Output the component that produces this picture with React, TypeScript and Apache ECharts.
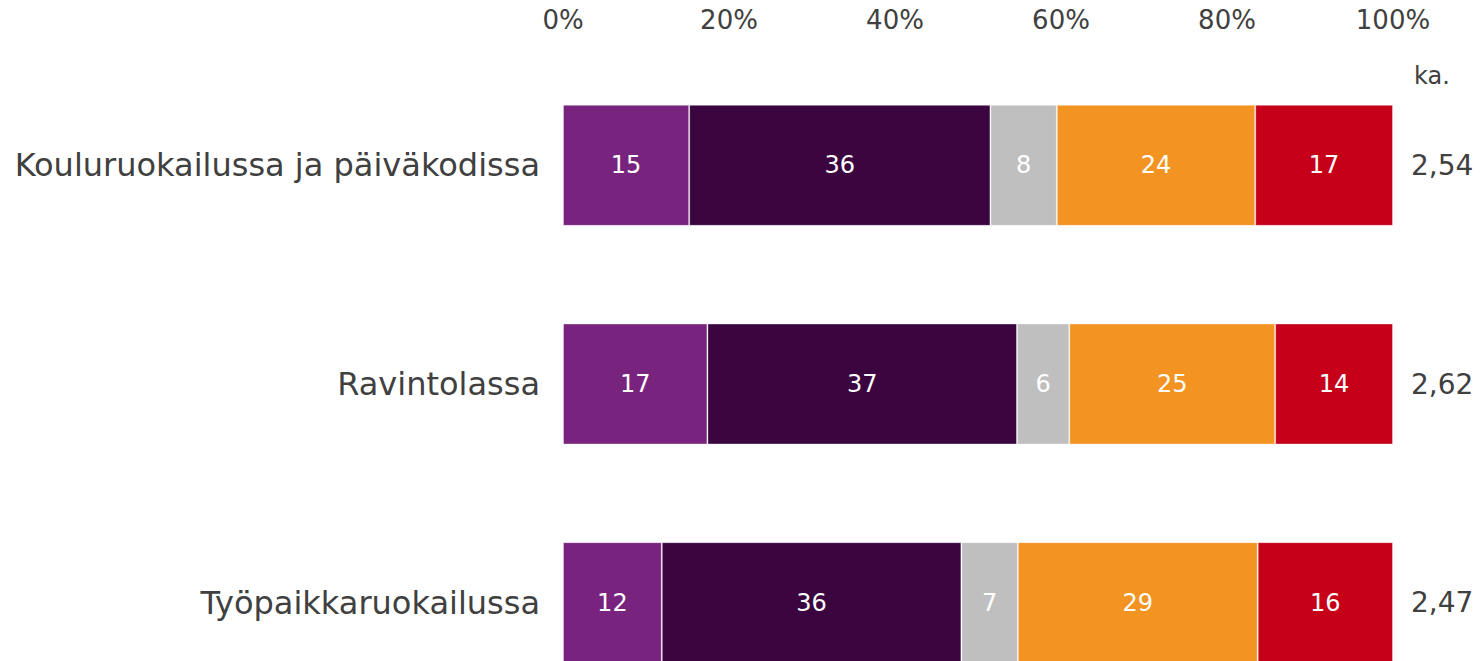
import React, { useEffect, useRef } from "react";
import * as echarts from "echarts";

const categories = ["Kouluruokailussa ja päiväkodissa", "Ravintolassa", "Työpaikkaruokailussa"];
const averages = ["2,54", "2,62", "2,47"];
const seriesNames = ["1", "2", "3", "4", "5"];
const s1 = [15.2, 17.4, 11.9];
const s2 = [36.3, 37.3, 36.1];
const s3 = [8.0, 6.3, 6.8];
const s4 = [23.9, 24.8, 28.9];
const s5 = [16.6, 14.2, 16.3];
const xTicks = [0, 20, 40, 60, 80, 100];
const colors = ["#78237D", "#3B0540", "#BFBFBF", "#F39322", "#C70019"];

const FONT = "'DejaVu Sans', Verdana, sans-serif";
const TEXT = "#404040";

export default function App() {
  const ref = useRef<HTMLDivElement>(null);
  useEffect(() => {
    if (!ref.current) return;
    const chart = echarts.init(ref.current, undefined, { renderer: "svg" });
    const all = [s1, s2, s3, s4, s5];
    chart.setOption({
      animation: false,
      textStyle: { fontFamily: FONT },
      grid: { left: 563, right: 90, top: 56, bottom: 0, containLabel: false },
      xAxis: {
        type: "value",
        position: "top",
        min: xTicks[0],
        max: xTicks[xTicks.length - 1],
        interval: 20,
        axisLine: { show: false },
        axisTick: { show: false },
        splitLine: { show: false },
        axisLabel: {
          formatter: "{value}%",
          fontSize: 26,
          color: TEXT,
          fontFamily: FONT,
          margin: 23,
        },
      },
      yAxis: [
        {
          type: "category",
          inverse: true,
          data: categories,
          axisLine: { show: false },
          axisTick: { show: false },
          axisLabel: { fontSize: 32, color: TEXT, fontFamily: FONT, margin: 23 },
        },
        {
          type: "category",
          inverse: true,
          position: "right",
          data: averages,
          axisLine: { show: false },
          axisTick: { show: false },
          axisLabel: { fontSize: 28, color: TEXT, fontFamily: FONT, margin: 18 },
        },
      ],
      graphic: [
        {
          type: "text",
          left: 1414,
          top: 64,
          style: { text: "ka.", fontSize: 24, fill: TEXT, fontFamily: FONT },
        },
      ],
      series: all.map((d, i) => ({
        name: seriesNames[i],
        type: "bar",
        stack: "total",
        yAxisIndex: 0,
        barWidth: 121,
        data: d,
        itemStyle: {
          color: colors[i],
          borderColor: "rgba(255,255,255,0.35)",
          borderWidth: 1,
        },
        label: {
          show: true,
          position: "inside",
          color: "#ffffff",
          fontSize: 24,
          fontFamily: FONT,
          formatter: (p: any) => String(Math.round(p.value)),
        },
      })),
    });
    return () => chart.dispose();
  }, []);
  return (
    <div
      style={{ position: "fixed", left: 0, top: 0, width: 1483, height: 661, overflow: "hidden", background: "#fff" }}
    >
      <div ref={ref} style={{ width: 1483, height: 712 }} />
    </div>
  );
}
